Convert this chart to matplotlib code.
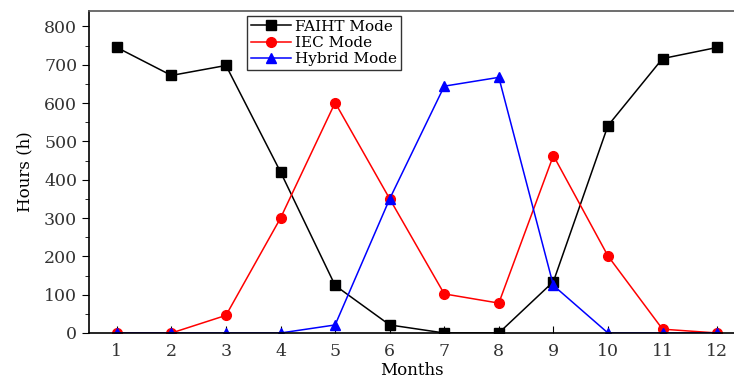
import matplotlib.pyplot as plt
from matplotlib.ticker import MultipleLocator

plt.rcParams['font.family'] = ['DejaVu Serif']

# Monthly operating hours per mode
months = [1, 2, 3, 4, 5, 6, 7, 8, 9, 10, 11, 12]
faiht_hours = [745, 672, 698, 420, 124, 21, 0, 0, 134, 541, 716, 745]
iec_hours = [0, 0, 46, 300, 601, 350, 102, 78, 463, 201, 10, 0]
hybrid_hours = [0, 0, 0, 0, 21, 350, 644, 667, 124, 0, 0, 0]

fig = plt.figure(figsize=(7.34, 3.81), dpi=100)
ax = fig.add_axes([0.1213, 0.126, 0.8787, 0.845])

ax.plot(months, faiht_hours, color='black', marker='s', markersize=6.5, lw=1.1, label='FAIHT Mode')
ax.plot(months, iec_hours, color='red', marker='o', markersize=7, lw=1.1, label='IEC Mode')
ax.plot(months, hybrid_hours, color='blue', marker='^', markersize=7.5, lw=1.1, label='Hybrid Mode')

ax.set_xlim(0.49, 12.31)
ax.set_ylim(0, 840)
ax.set_xticks(months)
ax.yaxis.set_major_locator(MultipleLocator(100))
ax.yaxis.set_minor_locator(MultipleLocator(50))
ax.tick_params(axis='x', direction='in', length=5, labelsize=12.5, pad=7, labelcolor='#333333')
ax.tick_params(axis='y', which='major', direction='out', length=5, labelsize=12.5, labelcolor='#333333')
ax.tick_params(axis='y', which='minor', direction='out', length=3)
ax.spines['right'].set_visible(False)
for side in ['left', 'bottom', 'top']:
    ax.spines[side].set_linewidth(1.2)
ax.spines['top'].set_color('#555555')

ax.set_xlabel('Months', fontsize=12, labelpad=2)
ax.set_ylabel('Hours (h)', fontsize=12, labelpad=8)

leg = ax.legend(loc='upper left', bbox_to_anchor=(0.245, 0.985), borderaxespad=0,
                fontsize=11, frameon=True, fancybox=False, edgecolor='black',
                handlelength=2.6, borderpad=0.25, labelspacing=0.15, handletextpad=0.3)
leg.get_frame().set_linewidth(1.0)

fig.savefig('out.png', dpi=100)
